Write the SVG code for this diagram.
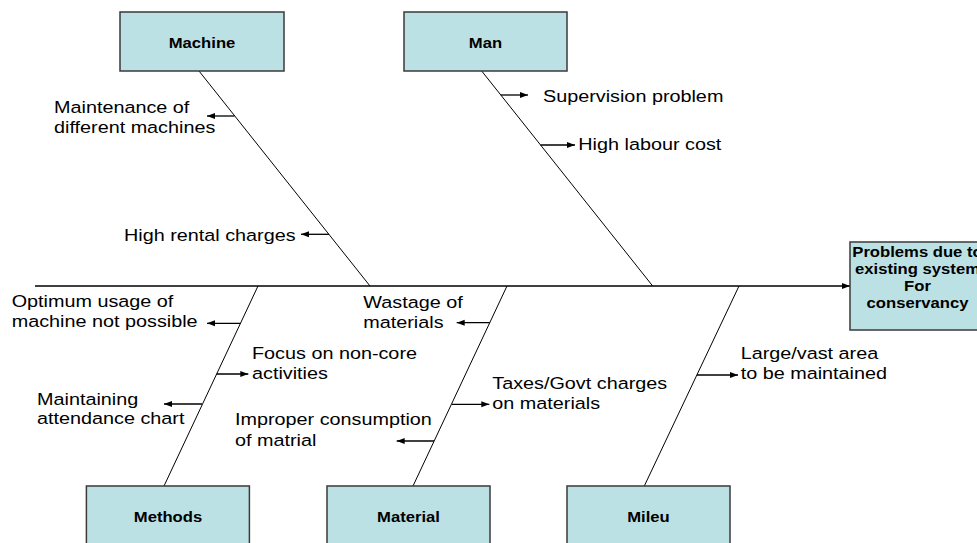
<svg xmlns="http://www.w3.org/2000/svg" width="977" height="543" viewBox="0 0 977 543">
<style>
.box{fill:#BCE1E4;stroke:#3a3a3a;stroke-width:1.5}
.lbl{font-family:"Liberation Sans",Arial,sans-serif;font-size:14px;font-weight:bold;fill:#000;text-anchor:middle}
.txt{font-family:"Liberation Sans",Arial,sans-serif;font-size:17px;fill:#000}
.ln{stroke:#000;stroke-width:1;fill:none}
.ar{stroke:#000;stroke-width:1.3;fill:none;marker-end:url(#ah)}
</style>
<defs>
<marker id="ah" markerUnits="userSpaceOnUse" markerWidth="9" markerHeight="7" refX="8" refY="3.5" orient="auto">
<path d="M0,0.5 L8,3.5 L0,6.5 z" fill="#000"/>
</marker>
</defs>
<rect width="977" height="543" fill="#fff"/>
<g id="connectors">
<line class="ar" x1="35" y1="286" x2="850" y2="286"/>
<line class="ln" x1="199" y1="71" x2="370" y2="286"/>
<line class="ln" x1="481.7" y1="71" x2="652.7" y2="286"/>
<line class="ln" x1="258" y1="286" x2="164" y2="486"/>
<line class="ln" x1="507" y1="286" x2="413" y2="486"/>
<line class="ln" x1="739" y1="286" x2="644.3" y2="486"/>
<line class="ar" x1="234.5" y1="116" x2="207" y2="116"/>
<line class="ar" x1="329" y1="234.3" x2="301" y2="234.3"/>
<line class="ar" x1="500.8" y1="95" x2="528" y2="95"/>
<line class="ar" x1="540.5" y1="145" x2="575" y2="145"/>
<line class="ar" x1="240.5" y1="323.3" x2="207" y2="323.3"/>
<line class="ar" x1="216.6" y1="374" x2="248.3" y2="374"/>
<line class="ar" x1="202" y1="404" x2="164" y2="404"/>
<line class="ar" x1="489.8" y1="322.7" x2="456.7" y2="322.7"/>
<line class="ar" x1="452" y1="404.3" x2="489.3" y2="404.3"/>
<line class="ar" x1="434" y1="441" x2="396.7" y2="441"/>
<line class="ar" x1="696.9" y1="375" x2="738" y2="375"/>
</g>
<g id="problem">
<rect class="box" x="850" y="242" width="160" height="88"/>
<text class="lbl" transform="translate(917.5 256.7) scale(1.19 1)"><tspan x="0" y="0">Problems due to</tspan><tspan x="0" y="17">existing system</tspan><tspan x="0" y="34.3">For</tspan><tspan x="0" y="51.8">conservancy</tspan></text>
</g>
<g id="machine">
<rect class="box" x="120" y="12" width="164" height="59"/>
<text class="lbl" transform="translate(202 47.7) scale(1.19 1)">Machine</text>
</g>
<g id="man">
<rect class="box" x="404" y="12" width="163" height="59"/>
<text class="lbl" transform="translate(485.5 47.7) scale(1.19 1)">Man</text>
</g>
<g id="methods">
<rect class="box" x="86.4" y="486" width="163" height="59"/>
<text class="lbl" transform="translate(168 521.7) scale(1.19 1)">Methods</text>
</g>
<g id="material">
<rect class="box" x="327" y="486" width="163" height="59"/>
<text class="lbl" transform="translate(408.5 521.7) scale(1.19 1)">Material</text>
</g>
<g id="mileu">
<rect class="box" x="567" y="486" width="163" height="59"/>
<text class="lbl" transform="translate(648.5 521.7) scale(1.19 1)">Mileu</text>
</g>
<g id="causes">
<text class="txt" transform="translate(54 112.5) scale(1.165 1)"><tspan x="0" y="0">Maintenance of</tspan><tspan x="0" y="20.5">different machines</tspan></text>
<text class="txt" transform="translate(124 241) scale(1.165 1)">High rental charges</text>
<text class="txt" transform="translate(543 101.7) scale(1.165 1)">Supervision problem</text>
<text class="txt" transform="translate(578.3 150) scale(1.165 1)">High labour cost</text>
<text class="txt" transform="translate(11.7 307.3) scale(1.165 1)"><tspan x="0" y="0">Optimum usage of</tspan><tspan x="0" y="20">machine not possible</tspan></text>
<text class="txt" transform="translate(252 358.5) scale(1.165 1)"><tspan x="0" y="0">Focus on non-core</tspan><tspan x="0" y="20.5">activities</tspan></text>
<text class="txt" transform="translate(37 405) scale(1.165 1)"><tspan x="0" y="0">Maintaining</tspan><tspan x="0" y="19.5">attendance chart</tspan></text>
<text class="txt" transform="translate(363.3 308.3) scale(1.165 1)"><tspan x="0" y="0">Wastage of</tspan><tspan x="0" y="19.5">materials</tspan></text>
<text class="txt" transform="translate(492.3 389.3) scale(1.165 1)"><tspan x="0" y="0">Taxes/Govt charges</tspan><tspan x="0" y="20">on materials</tspan></text>
<text class="txt" transform="translate(235 425) scale(1.165 1)"><tspan x="0" y="0">Improper consumption</tspan><tspan x="0" y="21">of matrial</tspan></text>
<text class="txt" transform="translate(740.7 359) scale(1.165 1)"><tspan x="0" y="0">Large/vast area</tspan><tspan x="0" y="20.3">to be maintained</tspan></text>
</g>
</svg>
